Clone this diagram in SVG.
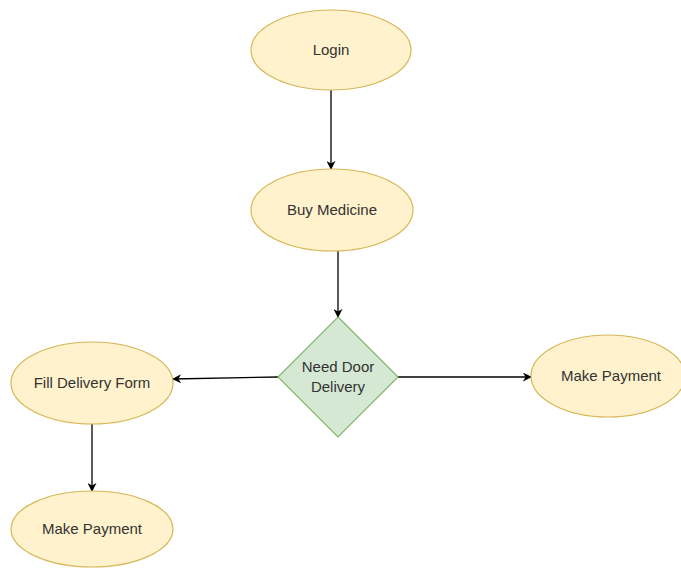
<svg xmlns="http://www.w3.org/2000/svg" width="681" height="568" viewBox="0 0 681 568">
<style>
.term{fill:#fff2cc;stroke:#d6b656;stroke-width:1.2}
.dec{fill:#d5e8d4;stroke:#82b366;stroke-width:1.2}
.lbl{font-family:"Liberation Sans",Arial,sans-serif;font-size:15px;fill:#333;text-anchor:middle}
.edge{stroke:#000;stroke-width:1.3;fill:none;marker-end:url(#ah)}
</style>
<defs>
<marker id="ah" viewBox="0 0 10 10" refX="9" refY="5" markerWidth="9" markerHeight="9" markerUnits="userSpaceOnUse" orient="auto">
<path d="M0,0 L10,5 L0,10 L3,5 Z" fill="#000"/>
</marker>
</defs>
<rect width="681" height="568" fill="#fff"/>
<g id="connectors">
<line class="edge" x1="331" y1="90" x2="331" y2="169"/>
<line class="edge" x1="338" y1="251" x2="338" y2="317"/>
<line class="edge" x1="278" y1="377" x2="173" y2="379"/>
<line class="edge" x1="398" y1="377" x2="531" y2="377"/>
<line class="edge" x1="92" y1="424" x2="92" y2="491"/>
</g>
<g id="login">
<ellipse class="term" cx="331" cy="50" rx="80" ry="40"/>
<text class="lbl" x="331" y="55">Login</text>
</g>
<g id="buy">
<ellipse class="term" cx="332" cy="210" rx="81" ry="41"/>
<text class="lbl" x="332" y="215">Buy Medicine</text>
</g>
<g id="decision">
<polygon class="dec" points="338,317 398,377 338,437 278,377"/>
<text class="lbl" x="338" y="372">Need Door</text>
<text class="lbl" x="338" y="392">Delivery</text>
</g>
<g id="fill">
<ellipse class="term" cx="92" cy="383" rx="81" ry="41"/>
<text class="lbl" x="92" y="388">Fill Delivery Form</text>
</g>
<g id="pay-right">
<ellipse class="term" cx="608" cy="376" rx="77" ry="41"/>
<text class="lbl" x="611" y="381">Make Payment</text>
</g>
<g id="pay-bottom">
<ellipse class="term" cx="92" cy="529" rx="81" ry="38"/>
<text class="lbl" x="92" y="534">Make Payment</text>
</g>
</svg>
